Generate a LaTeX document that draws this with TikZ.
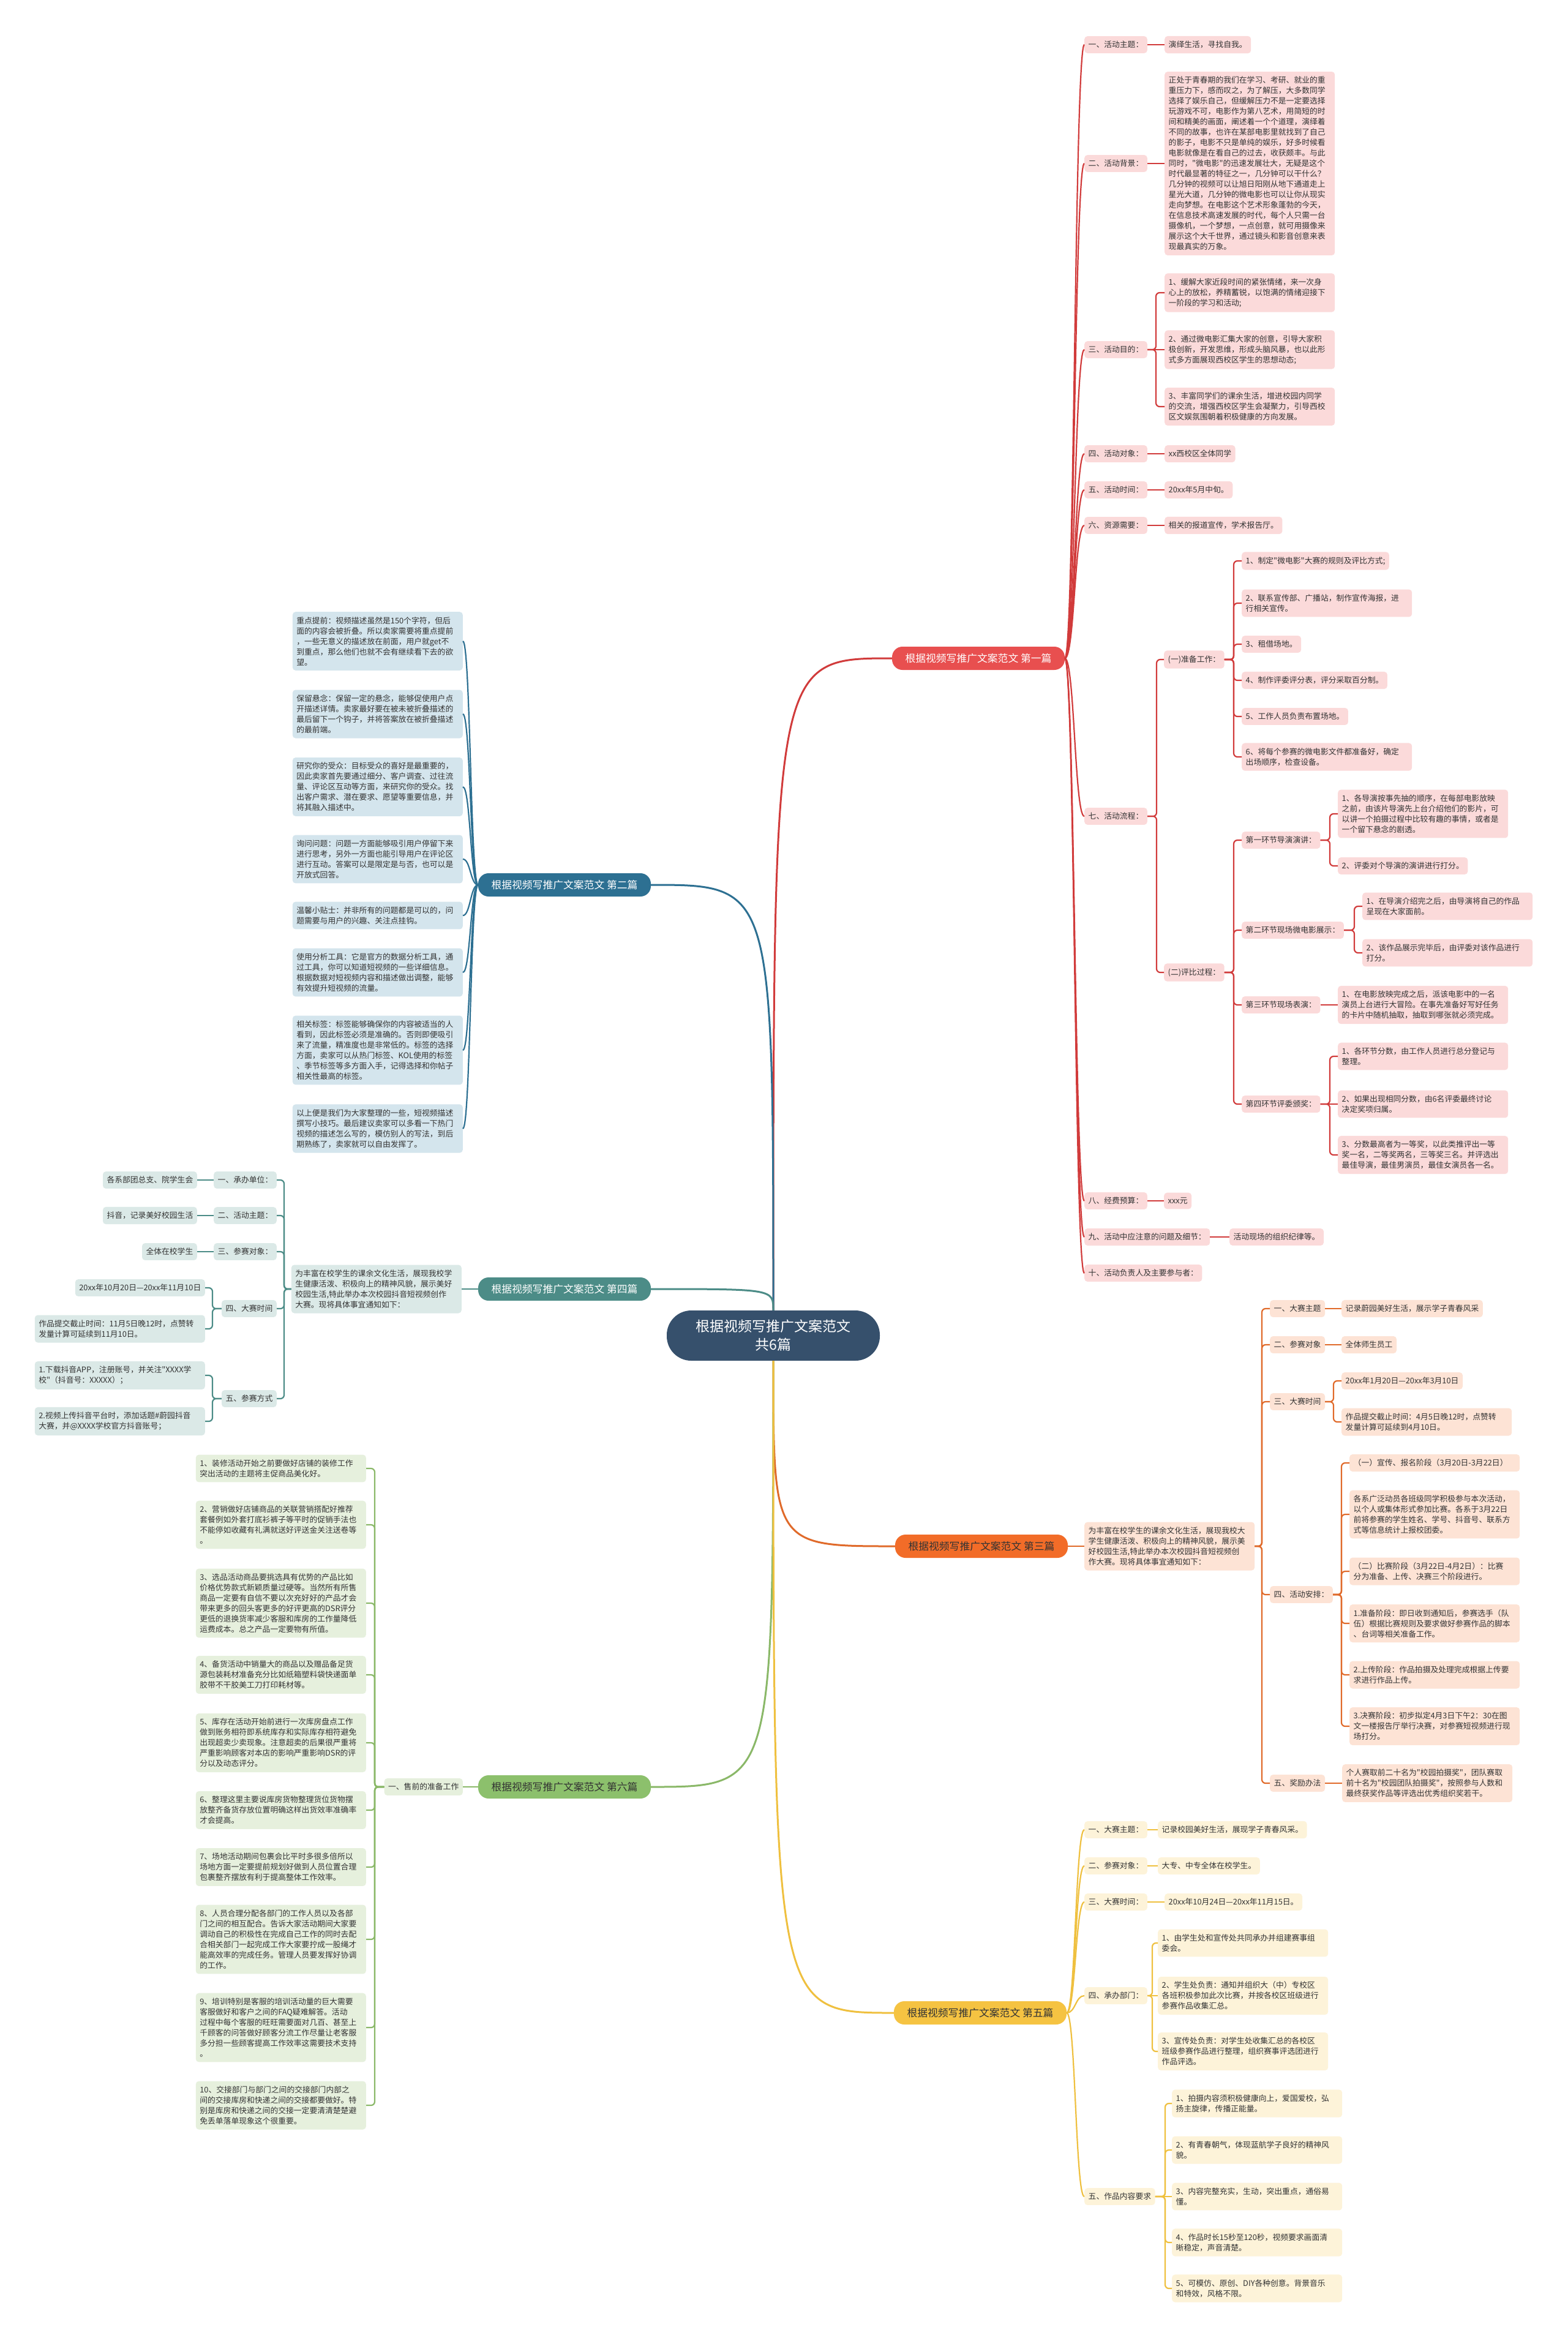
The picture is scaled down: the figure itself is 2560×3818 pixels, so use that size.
\documentclass[tikz,border=0pt]{standalone}
\usepackage{fontspec}
\newfontfamily\cjk{Noto Sans CJK SC}
\usetikzlibrary{calc}
\definecolor{txt}{HTML}{333333}
\definecolor{cenf}{HTML}{36506C}
\definecolor{redn}{HTML}{E84F4F}
\definecolor{redl}{HTML}{D13B3B}
\definecolor{redf}{HTML}{FBDADA}
\definecolor{blun}{HTML}{2D7092}
\definecolor{bluf}{HTML}{D4E5ED}
\definecolor{teln}{HTML}{4C8C87}
\definecolor{telf}{HTML}{DBE9E7}
\definecolor{orgn}{HTML}{F26C28}
\definecolor{orgl}{HTML}{E06A2A}
\definecolor{orgf}{HTML}{FDE3D5}
\definecolor{grnn}{HTML}{8CC06C}
\definecolor{grnl}{HTML}{8AB868}
\definecolor{grnf}{HTML}{E6F0DD}
\definecolor{yeln}{HTML}{F5C342}
\definecolor{yell}{HTML}{EFC03F}
\definecolor{yelf}{HTML}{FDF3D9}
\newcommand\fs{\cjk\fontsize{12.8}{17}\selectfont}
\newcommand\crv[3]{\draw[#1] let \p1=(#2), \p2=(#3) in (\p1) .. controls ({0.5*\x1+0.5*\x2},\y1) and ({0.5*\x1+0.5*\x2},\y2) .. (\p2);}
\newcommand\elb[4]{\draw[#1,rounded corners=6pt] let \p1=(#2) in (\p1) -- (#4pt,\y1) |- (#3);}
\tikzset{
 lf/.style={rounded corners=5pt, inner xsep=6.5pt, inner ysep=8pt, align=left, font=\fs, text=txt},
 wr/.style={lf, text width=265pt},
 br/.style={rounded corners=17pt, minimum width=282pt, minimum height=38pt, inner sep=0pt, font=\cjk\fontsize{16.8}{20}\selectfont},
 cen/.style={fill=cenf, text=white, rounded corners=40pt, minimum width=348pt, minimum height=82pt, align=center, font=\cjk\fontsize{23}{30}\selectfont},
 rf/.style={fill=redf}, bf/.style={fill=bluf}, tf/.style={fill=telf},
 of/.style={fill=orgf}, gf/.style={fill=grnf}, yf/.style={fill=yelf},
 rl/.style={draw=redl, line width=2.2pt},
 bl/.style={draw=blun, line width=2.2pt},
 tl/.style={draw=teln, line width=2.2pt},
 ol/.style={draw=orgl, line width=2.2pt},
 gl/.style={draw=grnl, line width=2.2pt},
 yl/.style={draw=yell, line width=2.2pt},
 mw/.style={line width=3pt},
}
\begin{document}
\begin{tikzpicture}[x=1pt,y=-1pt]
\fill[white] (0,0) rectangle (2560,3818);
\useasboundingbox (0,0) rectangle (2560,3818);

% ===== center and branches
\node[cen] (c) at (1263,2181) {根据视频写推广文案范文\\共6篇};
\node[br,fill=redn,text=white] (b1) at (1598,1075) {根据视频写推广文案范文 第一篇};
\node[br,fill=blun,text=white] (b2) at (922,1445) {根据视频写推广文案范文 第二篇};
\node[br,fill=orgn,text=txt] (b3) at (1603,2525) {根据视频写推广文案范文 第三篇};
\node[br,fill=teln,text=white] (b4) at (922,2105) {根据视频写推广文案范文 第四篇};
\node[br,fill=yeln,text=txt] (b5) at (1601,3287) {根据视频写推广文案范文 第五篇};
\node[br,fill=grnn,text=txt] (b6) at (922,2918) {根据视频写推广文案范文 第六篇};

\draw[rl,mw] (c.north) .. controls (1263,1075) .. (b1.west);
\draw[bl,mw] (c.north) .. controls (1263,1445) .. (b2.east);
\draw[tl,mw] (c.north) .. controls (1263,2105) .. (b4.east);
\draw[ol,mw] (c.south) .. controls (1263,2525) .. (b3.west);
\draw[gl,mw] (c.south) .. controls (1263,2918) .. (b6.east);
\draw[yl,mw] (c.south) .. controls (1263,3287) .. (b5.west);

% ===== branch 1
\node[lf,rf,anchor=west] (a1) at (1771,73) {一、活动主题：};
\node[lf,rf,anchor=west] (a1v) at (1902,73) {演绎生活，寻找自我。};
\node[lf,rf,anchor=west] (a2) at (1771,267) {二、活动背景：};
\node[wr,rf,anchor=west] (a2v) at (1902,267) {正处于青春期的我们在学习、考研、就业的重\\重压力下，感而叹之，为了解压，大多数同学\\选择了娱乐自己，但缓解压力不是一定要选择\\玩游戏不可，电影作为第八艺术，用简短的时\\间和精美的画面，阐述着一个个道理，演绎着\\不同的故事，也许在某部电影里就找到了自己\\的影子，电影不只是单纯的娱乐，好多时候看\\电影就像是在看自己的过去，收获颇丰。与此\\同时，"微电影"的迅速发展壮大，无疑是这个\\时代最显著的特征之一，几分钟可以干什么？\\几分钟的视频可以让旭日阳刚从地下通道走上\\星光大道，几分钟的微电影也可以让你从现实\\走向梦想。在电影这个艺术形象蓬勃的今天，\\在信息技术高速发展的时代，每个人只需一台\\摄像机，一个梦想，一点创意，就可用摄像来\\展示这个大千世界，通过镜头和影音创意来表\\现最真实的万象。};
\node[lf,rf,anchor=west] (a3) at (1771,571) {三、活动目的：};
\node[wr,rf,anchor=west] (a3a) at (1902,478) {1、缓解大家近段时间的紧张情绪，来一次身\\心上的放松，养精蓄锐，以饱满的情绪迎接下\\一阶段的学习和活动;};
\node[wr,rf,anchor=west] (a3b) at (1902,571) {2、通过微电影汇集大家的创意，引导大家积\\极创新，开发思维，形成头脑风暴，也以此形\\式多方面展现西校区学生的思想动态;};
\node[wr,rf,anchor=west] (a3c) at (1902,664) {3、丰富同学们的课余生活，增进校园内同学\\的交流，增强西校区学生会凝聚力，引导西校\\区文娱氛围朝着积极健康的方向发展。};
\node[lf,rf,anchor=west] (a4) at (1771,741) {四、活动对象：};
\node[lf,rf,anchor=west] (a4v) at (1902,741) {xx西校区全体同学};
\node[lf,rf,anchor=west] (a5) at (1771,800) {五、活动时间：};
\node[lf,rf,anchor=west] (a5v) at (1902,800) {20xx年5月中旬。};
\node[lf,rf,anchor=west] (a6) at (1771,858) {六、资源需要：};
\node[lf,rf,anchor=west] (a6v) at (1902,858) {相关的报道宣传，学术报告厅。};
\node[lf,rf,anchor=west] (a7) at (1771,1333) {七、活动流程：};
\node[lf,rf,anchor=west] (p1) at (1901,1077) {(一)准备工作：};
\node[lf,rf,anchor=west] (i1) at (2028,916) {1、制定"微电影"大赛的规则及评比方式;};
\node[wr,rf,anchor=west] (i2) at (2028,985) {2、联系宣传部、广播站，制作宣传海报，进\\行相关宣传。};
\node[lf,rf,anchor=west] (i3) at (2028,1052) {3、租借场地。};
\node[lf,rf,anchor=west] (i4) at (2028,1111) {4、制作评委评分表，评分采取百分制。};
\node[lf,rf,anchor=west] (i5) at (2028,1170) {5、工作人员负责布置场地。};
\node[wr,rf,anchor=west] (i6) at (2028,1236) {6、将每个参赛的微电影文件都准备好，确定\\出场顺序，检查设备。};
\node[lf,rf,anchor=west] (p2) at (1901,1588) {(二)评比过程：};
\node[lf,rf,anchor=west] (s1) at (2028,1372) {第一环节导演演讲：};
\node[wr,rf,anchor=west] (s1a) at (2185,1329) {1、各导演按事先抽的顺序，在每部电影放映\\之前，由该片导演先上台介绍他们的影片，可\\以讲一个拍摄过程中比较有趣的事情，或者是\\一个留下悬念的剧透。};
\node[lf,rf,anchor=west] (s1b) at (2185,1414) {2、评委对个导演的演讲进行打分。};
\node[lf,rf,anchor=west] (s2) at (2028,1519) {第二环节现场微电影展示：};
\node[wr,rf,anchor=west] (s2a) at (2225,1480) {1、在导演介绍完之后，由导演将自己的作品\\呈现在大家面前。};
\node[wr,rf,anchor=west] (s2b) at (2225,1556) {2、该作品展示完毕后，由评委对该作品进行\\打分。};
\node[lf,rf,anchor=west] (s3) at (2028,1641) {第三环节现场表演：};
\node[wr,rf,anchor=west] (s3a) at (2185,1641) {1、在电影放映完成之后，派该电影中的一名\\演员上台进行大冒险。在事先准备好写好任务\\的卡片中随机抽取，抽取到哪张就必须完成。};
\node[lf,rf,anchor=west] (s4) at (2028,1803) {第四环节评委颁奖：};
\node[wr,rf,anchor=west] (s4a) at (2185,1725) {1、各环节分数，由工作人员进行总分登记与\\整理。};
\node[wr,rf,anchor=west] (s4b) at (2185,1803) {2、如果出现相同分数，由6名评委最终讨论\\决定奖项归属。};
\node[wr,rf,anchor=west] (s4c) at (2185,1886) {3、分数最高者为一等奖，以此类推评出一等\\奖一名，二等奖两名，三等奖三名。并评选出\\最佳导演，最佳男演员，最佳女演员各一名。};
\node[lf,rf,anchor=west] (a8) at (1771,1961) {八、经费预算：};
\node[lf,rf,anchor=west] (a8v) at (1901,1961) {xxx元};
\node[lf,rf,anchor=west] (a9) at (1771,2020) {九、活动中应注意的问题及细节：};
\node[lf,rf,anchor=west] (a9v) at (2008,2020) {活动现场的组织纪律等。};
\node[lf,rf,anchor=west] (a10) at (1771,2079) {十、活动负责人及主要参与者：};

\foreach \k in {a1,a2,a3,a4,a5,a6,a7,a8,a9,a10} {\crv{rl}{b1.east}{\k.west}}
\foreach \k in {1,2,4,5,6,8,9} {\draw[rl] (a\k.east) -- (a\k v.west);}
\elb{rl}{a3.east}{a3a.west}{1888}
\draw[rl] (a3.east) -- (a3b.west);
\elb{rl}{a3.east}{a3c.west}{1888}
\elb{rl}{a7.east}{p1.west}{1889}
\elb{rl}{a7.east}{p2.west}{1889}
\foreach \k in {i1,i2,i3,i4,i5,i6} {\elb{rl}{p1.east}{\k.west}{2015}}
\foreach \k in {s1,s2,s3,s4} {\elb{rl}{p2.east}{\k.west}{2015}}
\foreach \k in {s1a,s1b} {\elb{rl}{s1.east}{\k.west}{2172}}
\foreach \k in {s2a,s2b} {\elb{rl}{s2.east}{\k.west}{2212}}
\draw[rl] (s3.east) -- (s3a.west);
\elb{rl}{s4.east}{s4a.west}{2172}
\draw[rl] (s4.east) -- (s4b.west);
\elb{rl}{s4.east}{s4c.west}{2172}

% ===== branch 2
\node[wr,bf,anchor=east] (q1) at (756,1047) {重点提前：视频描述虽然是150个字符，但后\\面的内容会被折叠。所以卖家需要将重点提前\\，一些无意义的描述放在前面，用户就get不\\到重点，那么他们也就不会有继续看下去的欲\\望。};
\node[wr,bf,anchor=east] (q2) at (756,1166) {保留悬念：保留一定的悬念，能够促使用户点\\开描述详情。卖家最好要在被未被折叠描述的\\最后留下一个钩子，并将答案放在被折叠描述\\的最前端。};
\node[wr,bf,anchor=east] (q3) at (756,1285) {研究你的受众：目标受众的喜好是最重要的，\\因此卖家首先要通过细分、客户调查、过往流\\量、评论区互动等方面，来研究你的受众。找\\出客户需求、潜在要求、愿望等重要信息，并\\将其融入描述中。};
\node[wr,bf,anchor=east] (q4) at (756,1403) {询问问题：问题一方面能够吸引用户停留下来\\进行思考，另外一方面也能引导用户在评论区\\进行互动。答案可以是限定是与否，也可以是\\开放式回答。};
\node[wr,bf,anchor=east] (q5) at (756,1495) {温馨小贴士：并非所有的问题都是可以的，问\\题需要与用户的兴趣、关注点挂钩。};
\node[wr,bf,anchor=east] (q6) at (756,1588) {使用分析工具：它是官方的数据分析工具，通\\过工具，你可以知道短视频的一些详细信息。\\根据数据对短视频内容和描述做出调整，能够\\有效提升短视频的流量。};
\node[wr,bf,anchor=east] (q7) at (756,1715) {相关标签：标签能够确保你的内容被适当的人\\看到，因此标签必须是准确的。否则即便吸引\\来了流量，精准度也是非常低的。标签的选择\\方面，卖家可以从热门标签、KOL使用的标签\\、季节标签等多方面入手，记得选择和你帖子\\相关性最高的标签。};
\node[wr,bf,anchor=east] (q8) at (756,1843) {以上便是我们为大家整理的一些，短视频描述\\撰写小技巧。最后建议卖家可以多看一下热门\\视频的描述怎么写的，模仿别人的写法，到后\\期熟练了，卖家就可以自由发挥了。};
\foreach \k in {q1,q2,q3,q4,q5,q6,q7,q8} {\crv{bl}{b2.west}{\k.east}}

% ===== branch 4
\node[wr,tf,anchor=east] (c1) at (754,2105) {为丰富在校学生的课余文化生活，展现我校学\\生健康活泼、积极向上的精神风貌，展示美好\\校园生活,特此举办本次校园抖音短视频创作\\大赛。现将具体事宜通知如下：};
\node[lf,tf,anchor=east] (d1) at (452,1927) {一、承办单位：};
\node[lf,tf,anchor=east] (d1v) at (322,1927) {各系部团总支、院学生会};
\node[lf,tf,anchor=east] (d2) at (452,1985) {二、活动主题：};
\node[lf,tf,anchor=east] (d2v) at (322,1985) {抖音，记录美好校园生活};
\node[lf,tf,anchor=east] (d3) at (452,2044) {三、参赛对象：};
\node[lf,tf,anchor=east] (d3v) at (322,2044) {全体在校学生};
\node[lf,tf,anchor=east] (d4) at (452,2137) {四、大赛时间};
\node[lf,tf,anchor=east] (d4a) at (335,2103) {20xx年10月20日—20xx年11月10日};
\node[wr,tf,anchor=east] (d4b) at (335,2170) {作品提交截止时间：11月5日晚12时，点赞转\\发量计算可延续到11月10日。};
\node[lf,tf,anchor=east] (d5) at (452,2284) {五、参赛方式};
\node[wr,tf,anchor=east] (d5a) at (335,2246) {1.下载抖音APP，注册账号，并关注"XXXX学\\校"（抖音号：XXXXX）；};
\node[wr,tf,anchor=east] (d5b) at (335,2321) {2.视频上传抖音平台时，添加话题\#蔚园抖音\\大赛，并@XXXX学校官方抖音账号；};
\draw[tl] (b4.west) -- (c1.east);
\foreach \k in {d1,d2,d3,d4,d5} {\elb{tl}{c1.west}{\k.east}{464}}
\foreach \k in {1,2,3} {\draw[tl] (d\k.west) -- (d\k v.east);}
\foreach \k in {d4a,d4b} {\elb{tl}{d4.west}{\k.east}{347}}
\foreach \k in {d5a,d5b} {\elb{tl}{d5.west}{\k.east}{347}}

% ===== branch 3
\node[wr,of,anchor=west] (e0) at (1771,2525) {为丰富在校学生的课余文化生活，展现我校大\\学生健康活泼、积极向上的精神风貌，展示美\\好校园生活,特此举办本次校园抖音短视频创\\作大赛。现将具体事宜通知如下：};
\node[lf,of,anchor=west] (e1) at (2074,2137) {一、大赛主题};
\node[lf,of,anchor=west] (e1v) at (2191,2137) {记录蔚园美好生活，展示学子青春风采};
\node[lf,of,anchor=west] (e2) at (2074,2196) {二、参赛对象};
\node[lf,of,anchor=west] (e2v) at (2191,2196) {全体师生员工};
\node[lf,of,anchor=west] (e3) at (2074,2289) {三、大赛时间};
\node[lf,of,anchor=west] (e3a) at (2191,2255) {20xx年1月20日—20xx年3月10日};
\node[wr,of,anchor=west] (e3b) at (2191,2322) {作品提交截止时间：4月5日晚12时，点赞转\\发量计算可延续到4月10日。};
\node[lf,of,anchor=west] (e4) at (2074,2604) {四、活动安排：};
\node[wr,of,anchor=west] (e4a) at (2204,2389) {（一）宣传、报名阶段（3月20日-3月22日）};
\node[wr,of,anchor=west] (e4b) at (2204,2473) {各系广泛动员各班级同学积极参与本次活动，\\以个人或集体形式参加比赛。各系于3月22日\\前将参赛的学生姓名、学号、抖音号、联系方\\式等信息统计上报校团委。};
\node[wr,of,anchor=west] (e4c) at (2204,2566) {（二）比赛阶段（3月22日-4月2日）：比赛\\分为准备、上传、决赛三个阶段进行。};
\node[wr,of,anchor=west] (e4d) at (2204,2651) {1.准备阶段：即日收到通知后，参赛选手（队\\伍）根据比赛规则及要求做好参赛作品的脚本\\、台词等相关准备工作。};
\node[wr,of,anchor=west] (e4e) at (2204,2735) {2.上传阶段：作品拍摄及处理完成根据上传要\\求进行作品上传。};
\node[wr,of,anchor=west] (e4f) at (2204,2819) {3.决赛阶段：初步拟定4月3日下午2：30在图\\文一楼报告厅举行决赛，对参赛短视频进行现\\场打分。};
\node[lf,of,anchor=west] (e5) at (2074,2912) {五、奖励办法};
\node[wr,of,anchor=west] (e5v) at (2192,2912) {个人赛取前二十名为"校园拍摄奖"，团队赛取\\前十名为"校园团队拍摄奖"，按照参与人数和\\最终获奖作品等评选出优秀组织奖若干。};
\draw[ol] (b3.east) -- (e0.west);
\foreach \k in {e1,e2,e3,e4,e5} {\elb{ol}{e0.east}{\k.west}{2061}}
\foreach \k in {1,2,5} {\draw[ol] (e\k.east) -- (e\k v.west);}
\foreach \k in {e3a,e3b} {\elb{ol}{e3.east}{\k.west}{2178}}
\foreach \k in {e4a,e4b,e4c,e4d,e4e,e4f} {\elb{ol}{e4.east}{\k.west}{2191}}

% ===== branch 5
\node[lf,yf,anchor=west] (f1) at (1771,2988) {一、大赛主题：};
\node[lf,yf,anchor=west] (f1v) at (1891,2988) {记录校园美好生活，展现学子青春风采。};
\node[lf,yf,anchor=west] (f2) at (1771,3047) {二、参赛对象：};
\node[lf,yf,anchor=west] (f2v) at (1891,3047) {大专、中专全体在校学生。};
\node[lf,yf,anchor=west] (f3) at (1771,3106) {三、大赛时间：};
\node[lf,yf,anchor=west] (f3v) at (1902,3106) {20xx年10月24日—20xx年11月15日。};
\node[lf,yf,anchor=west] (f4) at (1771,3259) {四、承办部门：};
\node[wr,yf,anchor=west] (f4a) at (1891,3173) {1、由学生处和宣传处共同承办并组建赛事组\\委会。};
\node[wr,yf,anchor=west] (f4b) at (1891,3259) {2、学生处负责：通知并组织大（中）专校区\\各班积极参加此次比赛，并按各校区班级进行\\参赛作品收集汇总。};
\node[wr,yf,anchor=west] (f4c) at (1891,3350) {3、宣传处负责：对学生处收集汇总的各校区\\班级参赛作品进行整理，组织赛事评选团进行\\作品评选。};
\node[lf,yf,anchor=west] (f5) at (1771,3587) {五、作品内容要求};
\node[wr,yf,anchor=west] (f5a) at (1914,3435) {1、拍摄内容须积极健康向上，爱国爱校，弘\\扬主旋律，传播正能量。};
\node[wr,yf,anchor=west] (f5b) at (1914,3511) {2、有青春朝气，体现蓝航学子良好的精神风\\貌。};
\node[wr,yf,anchor=west] (f5c) at (1914,3587) {3、内容完整充实，生动，突出重点，通俗易\\懂。};
\node[wr,yf,anchor=west] (f5d) at (1914,3662) {4、作品时长15秒至120秒，视频要求画面清\\晰稳定，声音清楚。};
\node[wr,yf,anchor=west] (f5e) at (1914,3737) {5、可模仿、原创、DIY各种创意。背景音乐\\和特效，风格不限。};
\foreach \k in {f1,f2,f3,f4,f5} {\crv{yl}{b5.east}{\k.west}}
\foreach \k in {1,2,3} {\draw[yl] (f\k.east) -- (f\k v.west);}
\elb{yl}{f4.east}{f4a.west}{1882}
\draw[yl] (f4.east) -- (f4b.west);
\elb{yl}{f4.east}{f4c.west}{1882}
\foreach \k in {f5a,f5b,f5d,f5e} {\elb{yl}{f5.east}{\k.west}{1903}}
\draw[yl] (f5.east) -- (f5c.west);

% ===== branch 6
\node[lf,gf,anchor=east] (g0) at (756,2918) {一、售前的准备工作};
\node[wr,gf,anchor=east] (g1) at (598,2398) {1、装修活动开始之前要做好店铺的装修工作\\突出活动的主题将主促商品美化好。};
\node[wr,gf,anchor=east] (g2) at (598,2490) {2、营销做好店铺商品的关联营销搭配好推荐\\套餐例如外套打底衫裤子等平时的促销手法也\\不能停如收藏有礼满就送好评送金关注送卷等\\。};
\node[wr,gf,anchor=east] (g3) at (598,2618) {3、选品活动商品要挑选具有优势的产品比如\\价格优势款式新颖质量过硬等。当然所有所售\\商品一定要有自信不要以次充好好的产品才会\\带来更多的回头客更多的好评更高的DSR评分\\更低的退换货率减少客服和库房的工作量降低\\运费成本。总之产品一定要物有所值。};
\node[wr,gf,anchor=east] (g4) at (598,2735) {4、备货活动中销量大的商品以及赠品备足货\\源包装耗材准备充分比如纸箱塑料袋快递面单\\胶带不干胶美工刀打印耗材等。};
\node[wr,gf,anchor=east] (g5) at (598,2846) {5、库存在活动开始前进行一次库房盘点工作\\做到账务相符即系统库存和实际库存相符避免\\出现超卖少卖现象。注意超卖的后果很严重将\\严重影响顾客对本店的影响严重影响DSR的评\\分以及动态评分。};
\node[wr,gf,anchor=east] (g6) at (598,2956) {6、整理这里主要说库房货物整理货位货物摆\\放整齐备货存放位置明确这样出货效率准确率\\才会提高。};
\node[wr,gf,anchor=east] (g7) at (598,3049) {7、场地活动期间包裹会比平时多很多倍所以\\场地方面一定要提前规划好做到人员位置合理\\包裹整齐摆放有利于提高整体工作效率。};
\node[wr,gf,anchor=east] (g8) at (598,3167) {8、人员合理分配各部门的工作人员以及各部\\门之间的相互配合。告诉大家活动期间大家要\\调动自己的积极性在完成自己工作的同时去配\\合相关部门一起完成工作大家要拧成一股绳才\\能高效率的完成任务。管理人员要发挥好协调\\的工作。};
\node[wr,gf,anchor=east] (g9) at (598,3311) {9、培训特别是客服的培训活动量的巨大需要\\客服做好和客户之间的FAQ疑难解答。活动\\过程中每个客服的旺旺需要面对几百、甚至上\\千顾客的问答做好顾客分流工作尽量让老客服\\多分担一些顾客提高工作效率这需要技术支持\\。};
\node[wr,gf,anchor=east] (g10) at (598,3438) {10、交接部门与部门之间的交接部门内部之\\间的交接库房和快递之间的交接都要做好。特\\别是库房和快递之间的交接一定要清清楚楚避\\免丢单落单现象这个很重要。};
\draw[gl] (b6.west) -- (g0.east);
\foreach \k in {g1,g2,g3,g4,g5,g6,g7,g8,g9,g10} {\elb{gl}{g0.west}{\k.east}{612}}
\end{tikzpicture}
\end{document}
